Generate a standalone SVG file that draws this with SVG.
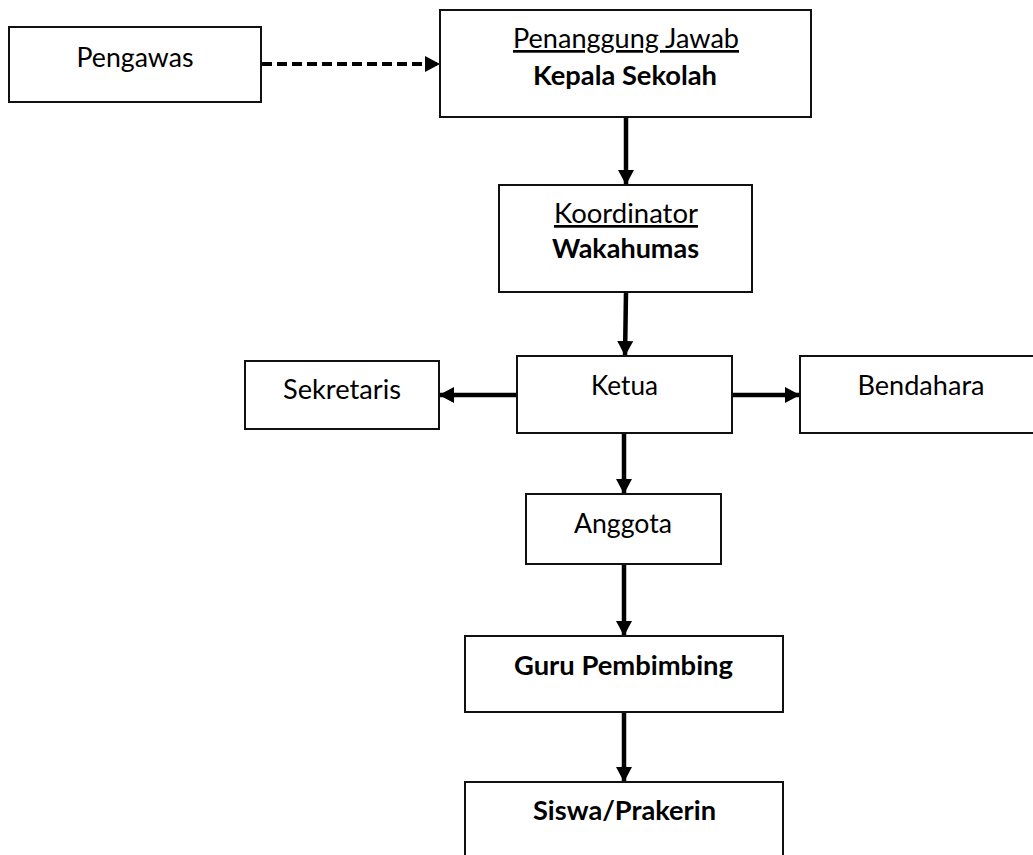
<svg xmlns="http://www.w3.org/2000/svg" width="1033" height="855" viewBox="0 0 1033 855">
<style>
.box{fill:#fff;stroke:#111;stroke-width:2}
.t{font-family:Lato,"Open Sans","Liberation Sans",sans-serif;font-size:27px;fill:#000;text-anchor:middle}
.b{font-weight:bold}
.u{text-decoration:underline}
.c{stroke:#000;stroke-width:4.5;fill:none}
.d{stroke:#000;stroke-width:4;fill:none;stroke-dasharray:10,5}
</style>
<defs>
<marker id="ah" markerUnits="userSpaceOnUse" markerWidth="17" markerHeight="17" refX="15" refY="8.5" orient="auto">
<path d="M0,0.5 L15,8.5 L0,16.5 z" fill="#000"/>
</marker>
</defs>
<rect width="1033" height="855" fill="#fff"/>
<g id="connectors">
<line class="d" x1="262" y1="64" x2="440" y2="64" marker-end="url(#ah)"/>
<line class="c" x1="626" y1="118" x2="626" y2="185" marker-end="url(#ah)"/>
<line class="c" x1="626" y1="293" x2="625" y2="356" marker-end="url(#ah)"/>
<line class="c" x1="517" y1="395" x2="439" y2="395" marker-end="url(#ah)"/>
<line class="c" x1="732" y1="395" x2="800" y2="395" marker-end="url(#ah)"/>
<line class="c" x1="624" y1="434" x2="624" y2="494" marker-end="url(#ah)"/>
<line class="c" x1="624" y1="565" x2="624" y2="636" marker-end="url(#ah)"/>
<line class="c" x1="624" y1="713" x2="624" y2="782" marker-end="url(#ah)"/>
</g>
<g id="pengawas">
<rect class="box" x="9" y="27" width="252" height="75"/>
<text class="t" x="135" y="67" textLength="117" lengthAdjust="spacingAndGlyphs">Pengawas</text>
</g>
<g id="kepala">
<rect class="box" x="440" y="10" width="371" height="107"/>
<text class="t u" x="626" y="48" textLength="226" lengthAdjust="spacingAndGlyphs">Penanggung Jawab</text>
<text class="t b" x="625" y="85" textLength="184" lengthAdjust="spacingAndGlyphs">Kepala Sekolah</text>
</g>
<g id="koordinator">
<rect class="box" x="499" y="185" width="253" height="107"/>
<text class="t u" x="626" y="223" textLength="144" lengthAdjust="spacingAndGlyphs">Koordinator</text>
<text class="t b" x="625.5" y="258" textLength="147" lengthAdjust="spacingAndGlyphs">Wakahumas</text>
</g>
<g id="sekretaris">
<rect class="box" x="245" y="361" width="194" height="68"/>
<text class="t" x="342" y="399" textLength="118" lengthAdjust="spacingAndGlyphs">Sekretaris</text>
</g>
<g id="ketua">
<rect class="box" x="517" y="356" width="215" height="77"/>
<text class="t" x="624.5" y="395" textLength="67" lengthAdjust="spacingAndGlyphs">Ketua</text>
</g>
<g id="bendahara">
<rect class="box" x="800" y="356" width="250" height="77"/>
<text class="t" x="921" y="395" textLength="127" lengthAdjust="spacingAndGlyphs">Bendahara</text>
</g>
<g id="anggota">
<rect class="box" x="526" y="494" width="195" height="70"/>
<text class="t" x="623" y="533" textLength="98" lengthAdjust="spacingAndGlyphs">Anggota</text>
</g>
<g id="guru">
<rect class="box" x="465" y="636" width="318" height="76"/>
<text class="t b" x="623.5" y="675" textLength="219" lengthAdjust="spacingAndGlyphs">Guru Pembimbing</text>
</g>
<g id="siswa">
<rect class="box" x="465" y="782" width="318" height="90"/>
<text class="t b" x="624.5" y="820" textLength="183" lengthAdjust="spacingAndGlyphs">Siswa/Prakerin</text>
</g>
</svg>
